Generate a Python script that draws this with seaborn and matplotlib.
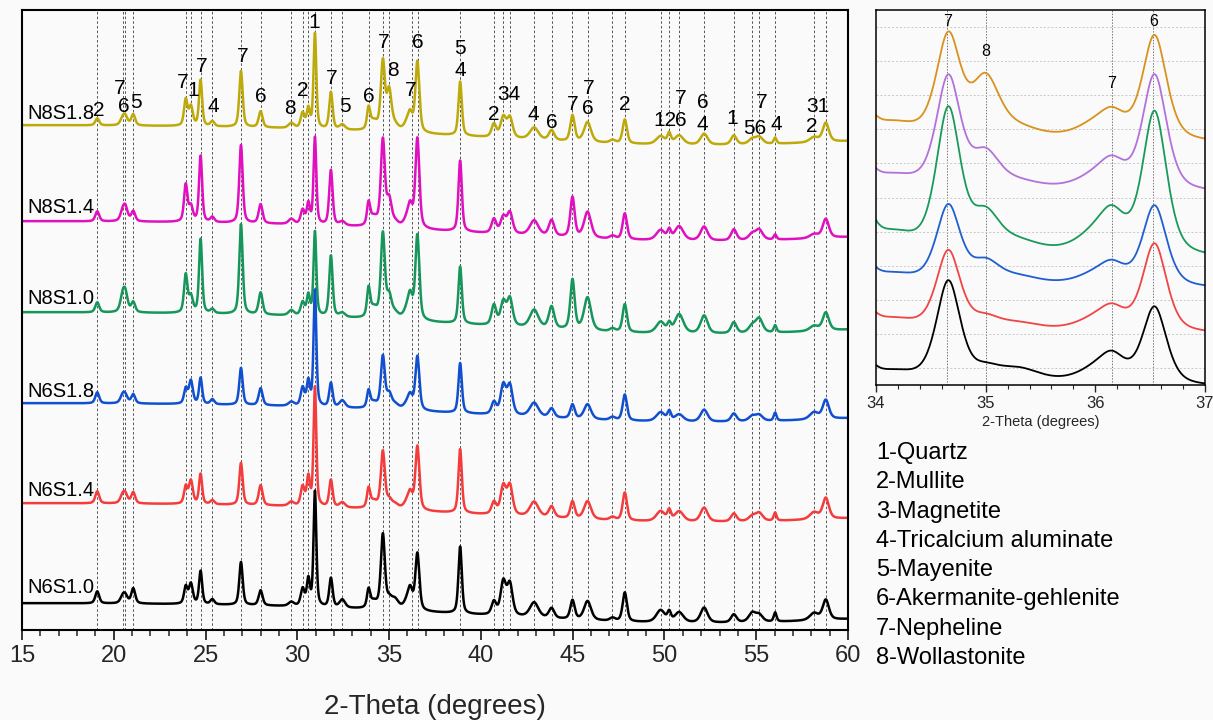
import numpy as np
import pandas as pd
import matplotlib
matplotlib.use("Agg")
import matplotlib.pyplot as plt
import seaborn as sns
from matplotlib.ticker import MultipleLocator

# ---------------- data ----------------
samples = ["N8S1.8", "N8S1.4", "N8S1.0", "N6S1.8", "N6S1.4", "N6S1.0"]

# peak positions (2-theta, deg) and widths (FWHM, deg)
peak_pos = [19.10, 20.48, 20.63, 21.06, 23.92, 24.20, 24.73, 25.37, 26.93, 28.00,
            29.67, 30.29, 30.60, 30.96, 31.83, 32.45, 33.88, 34.15, 34.66, 35.00,
            35.30, 35.95, 36.15, 36.54, 38.87, 40.71, 41.22, 41.58, 42.90, 43.85,
            44.99, 45.81, 47.17, 47.84, 49.79, 50.26, 50.80, 52.16, 53.78, 54.78,
            55.16, 56.03, 58.15, 58.79]
peak_fwhm = [0.25, 0.30, 0.30, 0.25, 0.22, 0.25, 0.20, 0.25, 0.22, 0.25,
             0.35, 0.25, 0.20, 0.18, 0.22, 0.35, 0.20, 0.50, 0.26, 0.30,
             0.50, 0.40, 0.30, 0.26, 0.22, 0.30, 0.35, 0.35, 0.55, 0.35,
             0.28, 0.45, 0.35, 0.28, 0.55, 0.22, 0.55, 0.45, 0.35, 0.45,
             0.45, 0.18, 0.55, 0.40]

# peak heights (arbitrary units)
h_N8S18 = [7, 6, 8, 11, 26, 19, 46, 5, 56, 16, 5, 15, 19, 95, 37, 5, 20, 9, 68, 38,
           6, 7, 16, 71, 54, 13, 20, 20, 12, 10, 26, 20, 3, 24, 8, 10, 9, 11, 9, 5,
           7, 6, 5, 19]
h_N8S14 = [10, 8, 13, 10, 37, 15, 66, 5, 78, 19, 5, 14, 20, 87, 55, 4, 21, 9, 86, 25,
           5, 7, 20, 90, 71, 14, 16, 21, 15, 16, 40, 26, 3, 26, 10, 9, 14, 14, 11, 6,
           10, 5, 4, 19]
h_N8S10 = [10, 14, 17, 10, 38, 16, 74, 4, 90, 22, 5, 13, 20, 84, 61, 4, 27, 10, 84, 20,
           6, 8, 22, 85, 57, 20, 23, 27, 18, 22, 50, 33, 3, 28, 11, 8, 19, 18, 11, 7,
           14, 7, 5, 18]
h_N6S18 = [11, 7, 7, 9, 15, 23, 26, 5, 37, 17, 4, 18, 24, 116, 24, 7, 16, 6, 52, 13,
           5, 5, 13, 54, 50, 12, 29, 29, 14, 9, 14, 15, 3, 26, 9, 9, 7, 12, 8, 5,
           6, 8, 7, 19]
h_N6S14 = [12, 7, 8, 11, 17, 23, 30, 4, 42, 20, 4, 19, 28, 119, 27, 5, 18, 7, 57, 7,
           5, 6, 15, 64, 64, 12, 28, 29, 15, 11, 17, 18, 3, 28, 10, 10, 10, 14, 8, 5,
           8, 8, 7, 21]
h_N6S10 = [12, 6, 7, 15, 17, 20, 33, 5, 43, 15, 4, 17, 26, 115, 29, 8, 17, 7, 74, 7,
           10, 7, 19, 57, 67, 13, 33, 31, 15, 10, 19, 19, 3, 29, 12, 9, 10, 15, 8, 9,
           7, 9, 7, 20]
heights = [h_N8S18, h_N8S14, h_N8S10, h_N6S18, h_N6S14, h_N6S10]
# broad background sag (a.u.)
drift_amp = [20, 20, 22, 19, 19, 20]

# peak annotations on the top pattern
lab_text = ["2", "7", "6", "5", "7", "1", "7", "4", "7", "6", "8", "2", "1", "7", "5",
            "6", "7", "8", "7", "6", "5", "4", "2", "34", "4", "6", "7", "7", "6", "2",
            "12", "6", "7", "6", "4", "1", "56", "7", "4", "31", "2"]
lab_x = [19.19, 20.34, 20.56, 21.21, 23.76, 24.32, 24.80, 25.40, 27.04, 28.02, 29.60,
         30.31, 30.90, 31.88, 32.59, 33.90, 34.72, 35.21, 36.19, 36.57, 38.86, 38.86,
         40.71, 41.50, 42.83, 43.87, 45.01, 45.88, 45.83, 47.84, 50.05, 50.89, 50.89,
         52.09, 52.09, 53.67, 54.92, 55.31, 56.07, 58.35, 58.03]
lab_y = [520, 541, 524, 528, 548, 540, 564, 523, 573, 533, 522, 540, 608, 551, 523,
         533, 587, 560, 539, 587, 581, 560, 516, 535, 516, 508, 526, 541, 521, 526,
         509, 509, 531, 528, 506, 512, 502, 528, 506, 524, 504]

phases = ["1-Quartz", "2-Mullite", "3-Magnetite", "4-Tricalcium aluminate",
          "5-Mayenite", "6-Akermanite-gehlenite", "7-Nepheline", "8-Wollastonite"]

inset_lines = [34.65, 35.00, 36.15, 36.53]
inset_lab_text = ["7", "8", "7", "6"]
inset_lab_x = [34.65, 35.00, 36.15, 36.53]
inset_lab_y = [363, 333, 302, 364]

dash_pos = [19.1, 20.48, 20.63, 21.06, 23.92, 24.2, 24.73, 25.37, 26.93, 28.0, 29.67,
            30.29, 30.6, 30.96, 31.83, 32.45, 33.9, 34.68, 35.01, 36.23, 36.58, 38.87,
            40.71, 41.22, 41.58, 42.9, 43.85, 44.99, 45.81, 47.17, 47.84, 49.79, 50.26,
            50.8, 52.16, 53.78, 54.78, 55.16, 56.03, 58.15, 58.79]

# ---------------- styling / layout ----------------
main_colors = ["#BDAA0A", "#E010C0", "#16965A", "#1050D0", "#F53C3C", "#000000"]
inset_colors = ["#D8921E", "#B272DA", "#1A9A5A", "#1F5FD0", "#F04545", "#000000"]
main_offset = [505, 409, 318, 227, 127, 27]
label_bottom = [507, 413, 322, 229, 130, 33]
inset_base = [270, 217, 165, 118, 73, 20]
inset_scale = [1.48, 1.29, 1.69, 1.5, 1.38, 1.36]


def pseudo_voigt(x, c, w, eta=0.5):
    hw = w / 2.0
    lor = 1.0 / (1.0 + ((x - c) / hw) ** 2)
    gau = np.exp(-np.log(2) * ((x - c) / hw) ** 2)
    return eta * lor + (1 - eta) * gau


x = np.round(np.arange(15.0, 60.0001, 0.01), 2)
rows = []
inset_rows = []
for i, s in enumerate(samples):
    prof = np.zeros_like(x)
    for c, w, h in zip(peak_pos, peak_fwhm, heights[i]):
        prof += h * pseudo_voigt(x, c, w)
    prof -= drift_amp[i] * np.exp(-(x - 52.0) ** 2 / (2 * 12.0 ** 2))
    rows.append(pd.DataFrame({"x": x, "y": main_offset[i] + prof, "sample": s}))
    m = (x >= 34.0) & (x <= 37.0)
    seg = prof[m]
    inset_rows.append(pd.DataFrame({"x": x[m], "y": inset_base[i] + inset_scale[i] * (seg - seg[0]),
                                    "sample": s}))
df = pd.concat(rows, ignore_index=True)
dfi = pd.concat(inset_rows, ignore_index=True)

sns.set_style("white")
plt.rcParams["font.family"] = ["Liberation Sans", "DejaVu Sans"]
bg = "#fafafa"

fig = plt.figure(figsize=(12.13, 7.2), dpi=100, facecolor=bg)
W, H = 1213, 720
ax = fig.add_axes([22 / W, 1 - 630 / H, (848 - 22) / W, 620 / H])
ax.set_facecolor(bg)

for xv in dash_pos:
    ax.axvline(xv, color="#555555", lw=0.7, ls=(0, (2.6, 2.2)), zorder=0)

sns.lineplot(data=df, x="x", y="y", hue="sample", palette=dict(zip(samples, main_colors)),
             estimator=None, sort=False, lw=1.8, legend=False, ax=ax)

ax.set_xlim(15, 60)
ax.set_ylim(0, 620)
ax.set_yticks([])
ax.set_ylabel("")
ax.xaxis.set_major_locator(MultipleLocator(5))
ax.xaxis.set_minor_locator(MultipleLocator(1))
ax.tick_params(axis="x", which="major", direction="out", length=7, width=1.3,
               labelsize=17, pad=4, bottom=True)
ax.tick_params(axis="x", which="minor", direction="out", length=4, width=1.1, bottom=True)
for sp in ax.spines.values():
    sp.set_linewidth(1.5)
    sp.set_color("black")
ax.set_xlabel("2-Theta (degrees)", fontsize=20, labelpad=19)

for t, xv, yv in zip(lab_text, lab_x, lab_y):
    ax.text(xv, yv, t, ha="center", va="center", fontsize=15, color="black")

for i, s in enumerate(samples):
    ax.text(15.28, label_bottom[i], s, ha="left", va="bottom", fontsize=14.5, color="black")

# ---------------- inset ----------------
axi = fig.add_axes([876 / W, 1 - 385 / H, (1205 - 876) / W, 375 / H])
axi.set_facecolor(bg)
for xv in inset_lines:
    axi.axvline(xv, color="#777777", lw=0.7, ls=(0, (1.5, 1.5)), zorder=0)
sns.lineplot(data=dfi, x="x", y="y", hue="sample", palette=dict(zip(samples, inset_colors)),
             estimator=None, sort=False, lw=1.3, legend=False, ax=axi)
axi.set_xlim(34, 37)
axi.set_ylim(0, 375)
axi.set_yticks(np.arange(17, 375, 34.1))
axi.set_yticklabels([])
axi.yaxis.grid(True, ls=(0, (2, 2)), color="#c8c8c8", lw=0.7)
axi.set_axisbelow(True)
axi.tick_params(axis="y", which="both", left=False, right=False, length=0)
axi.xaxis.set_major_locator(MultipleLocator(1))
axi.xaxis.set_minor_locator(MultipleLocator(0.2))
axi.tick_params(axis="x", which="major", direction="out", length=5, width=1.0,
                labelsize=12, pad=3, bottom=True)
axi.tick_params(axis="x", which="minor", direction="out", length=3, width=0.8, bottom=True)
for sp in axi.spines.values():
    sp.set_linewidth(1.1)
    sp.set_color("black")
axi.set_xlabel("2-Theta (degrees)", fontsize=10.5, labelpad=3)
axi.set_ylabel("")
for t, xv, yv in zip(inset_lab_text, inset_lab_x, inset_lab_y):
    axi.text(xv, yv, t, ha="center", va="center", fontsize=11.5, color="black")

# ---------------- phase key ----------------
for k, p in enumerate(phases):
    fig.text(876 / W, 1 - (453 + k * 29.3) / H, p, ha="left", va="center",
             fontsize=17, color="black")

fig.savefig("out.png", dpi=100, facecolor=bg)
